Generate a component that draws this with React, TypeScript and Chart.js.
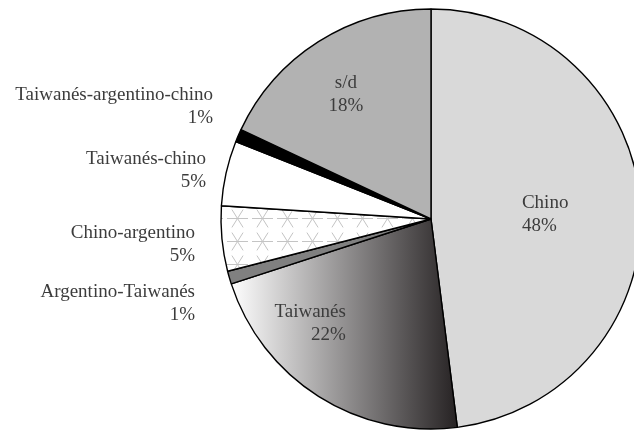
import React, { useEffect, useRef } from "react";
import { Chart, registerables } from "chart.js";

Chart.register(...registerables);

const categories = [
  "Chino",
  "Taiwanés",
  "Argentino-Taiwanés",
  "Chino-argentino",
  "Taiwanés-chino",
  "Taiwanés-argentino-chino",
  "s/d",
];
const values = [48, 22, 1, 5, 5, 1, 18];
const percentLabels = ["48%", "22%", "1%", "5%", "5%", "1%", "18%"];

// label anchor offsets relative to pie centre, in units of the radius
const labelPlacement: { dx: number; dy: number; align: CanvasTextAlign }[] = [
  { dx: 0.433, dy: -0.076, align: "left" },
  { dx: -0.405, dy: 0.443, align: "right" },
  { dx: -1.124, dy: 0.348, align: "right" },
  { dx: -1.124, dy: 0.067, align: "right" },
  { dx: -1.071, dy: -0.286, align: "right" },
  { dx: -1.038, dy: -0.59, align: "right" },
  { dx: -0.405, dy: -0.648, align: "center" },
];

const RADIUS = 210;
const FONT = '19px "Liberation Serif", serif';

function makeStarPattern(ctx: CanvasRenderingContext2D): CanvasPattern | string {
  const tile = document.createElement("canvas");
  tile.width = 25;
  tile.height = 23;
  const t = tile.getContext("2d");
  if (!t) return "#ffffff";
  t.fillStyle = "#ffffff";
  t.fillRect(0, 0, 25, 23);
  t.strokeStyle = "#c4c4c4";
  t.lineWidth = 1;
  const cx = 12.5, cy = 11.5, len = 10.5;
  const angles = [0, 58, 122];
  angles.forEach((a) => {
    const r = (a * Math.PI) / 180;
    t.beginPath();
    t.moveTo(cx - Math.cos(r) * len, cy - Math.sin(r) * len);
    t.lineTo(cx + Math.cos(r) * len, cy + Math.sin(r) * len);
    t.stroke();
  });
  return ctx.createPattern(tile, "repeat") || "#ffffff";
}

const labelPlugin = {
  id: "pieLabels",
  afterDatasetsDraw(chart: any) {
    const meta = chart.getDatasetMeta(0);
    const arc = meta.data[0];
    if (!arc) return;
    const { x, y, outerRadius } = arc.getProps(["x", "y", "outerRadius"], true);
    const ctx = chart.ctx as CanvasRenderingContext2D;
    ctx.save();
    ctx.font = FONT;
    ctx.fillStyle = "#3c3c3c";
    ctx.textBaseline = "middle";
    categories.forEach((name, i) => {
      const p = labelPlacement[i];
      const lx = x + p.dx * outerRadius;
      const ly = y + p.dy * outerRadius;
      ctx.textAlign = p.align;
      ctx.fillText(name, lx, ly);
      ctx.fillText(percentLabels[i], lx, ly + 23);
    });
    ctx.restore();
  },
};

export default function App() {
  const ref = useRef<HTMLCanvasElement | null>(null);

  useEffect(() => {
    const canvas = ref.current;
    if (!canvas) return;
    const ctx = canvas.getContext("2d") as CanvasRenderingContext2D;
    const pattern = makeStarPattern(ctx);

    const gradientFill = (c: any) => {
      const chart = c.chart;
      const ca = chart.chartArea;
      if (!ca) return "#888888";
      const cx = (ca.left + ca.right) / 2;
      const g = chart.ctx.createLinearGradient(cx - RADIUS * 0.955, 0, cx + RADIUS * 0.14, 0);
      g.addColorStop(0, "#ffffff");
      g.addColorStop(1, "#231f20");
      return g;
    };

    const fills: any[] = [
      "#d9d9d9",
      gradientFill,
      "#808080",
      pattern,
      "#ffffff",
      "#000000",
      "#b2b2b2",
    ];

    const chart = new Chart(canvas, {
      type: "pie",
      data: {
        labels: categories,
        datasets: [
          {
            data: values,
            backgroundColor: (c: any) => {
              const f = fills[c.dataIndex];
              return typeof f === "function" ? f(c) : f;
            },
            borderColor: "#000000",
            borderWidth: 1.4,
            hoverOffset: 0,
            clip: false as any,
          } as any,
        ],
      },
      options: {
        animation: false,
        responsive: false,
        devicePixelRatio: 1,
        radius: RADIUS,
        layout: { padding: { left: 228, right: 0, top: 7, bottom: 0 } },
        events: [],
        plugins: {
          legend: { display: false },
          tooltip: { enabled: false },
        },
      } as any,
      plugins: [labelPlugin],
    });
    return () => chart.destroy();
  }, []);

  return (
    <div style={{ position: "fixed", left: 0, top: 0, width: 634, height: 431, background: "#ffffff" }}>
      <canvas ref={ref} width={634} height={431} />
    </div>
  );
}
